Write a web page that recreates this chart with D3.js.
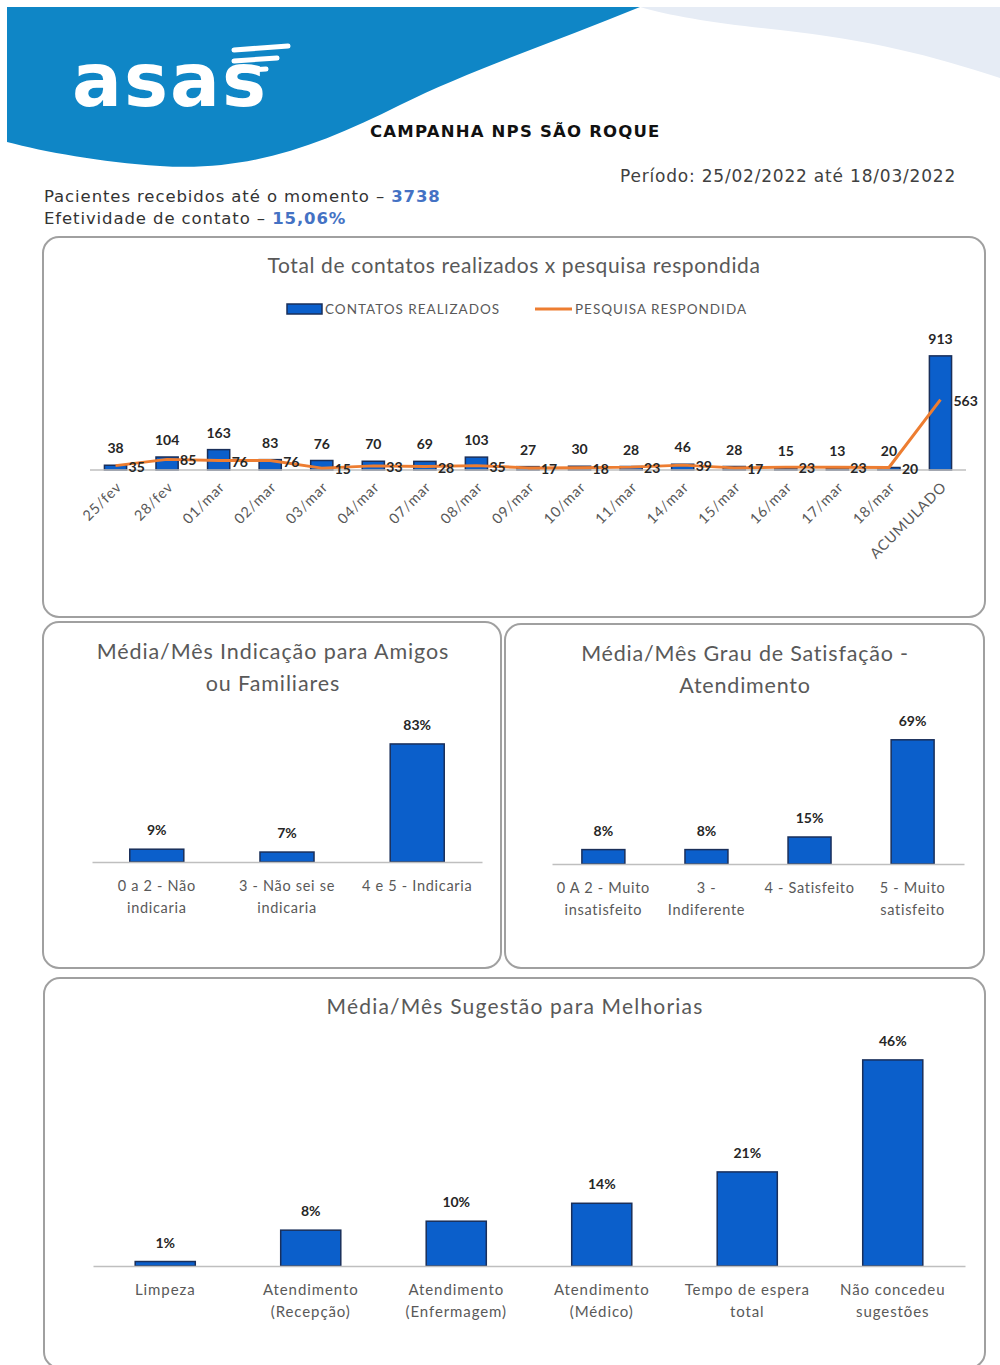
<!DOCTYPE html>
<html lang="pt-BR">
<head>
<meta charset="utf-8">
<script src="https://cdnjs.cloudflare.com/ajax/libs/d3/7.8.5/d3.min.js"></script>
<style>
  html, body { margin: 0; padding: 0; background: #fff; }
  svg { display: block; }
  .titulo { font-family: Lato, "Open Sans", sans-serif; fill: #595959; text-anchor: middle; }
  .valor { font-family: Lato, sans-serif; font-weight: bold; fill: #262626; font-size: 14px; }
  .cat { font-family: Lato, sans-serif; fill: #595959; }
  .cab { font-family: "DejaVu Sans", sans-serif; fill: #333; }
</style>
</head>
<body>
<script>

// ---- dados
var dias = ["25/fev","28/fev","01/mar","02/mar","03/mar","04/mar","07/mar","08/mar","09/mar",
            "10/mar","11/mar","14/mar","15/mar","16/mar","17/mar","18/mar","ACUMULADO"];
var contatos = [38,104,163,83,76,70,69,103,27,30,28,46,28,15,13,20,913];
var respondidas = [35,85,76,76,15,33,28,35,17,18,23,39,17,23,23,20,563];

var indicacaoCats = ["0 a 2 - Não\nindicaria","3 - Não sei se\nindicaria","4 e 5 - Indicaria"];
var indicacaoVals = [9,7,83];

var satisfacaoCats = ["0 A 2 - Muito\ninsatisfeito","3 -\nIndiferente","4 - Satisfeito","5 - Muito\nsatisfeito"];
var satisfacaoVals = [8,8,15,69];

var melhoriasCats = ["Limpeza","Atendimento\n(Recepção)","Atendimento\n(Enfermagem)","Atendimento\n(Médico)","Tempo de espera\ntotal","Não concedeu\nsugestões"];
var melhoriasVals = [1,8,10,14,21,46];

var pacientes = "3738";
var efetividade = "15,06%";

// ---- svg
var W = 1000, H = 1365;
var svg = d3.select("body").append("svg").attr("width", W).attr("height", H);

var AZUL = "#0b5fcb", CONTORNO = "#1a2f5a", LARANJA = "#ed7d31";

// ---- cabeçalho
svg.append("path")
  .attr("d", "M640,7 L1000,7 L1000,78 C930,55 870,40 780,30 C720,24 670,16 640,7 Z")
  .attr("fill", "#e6ecf5");
svg.append("path")
  .attr("d", "M7,7 L640,7 C560,40 470,70 400,105 C320,145 250,172 160,166 C100,162 45,152 7,142 Z")
  .attr("fill", "#0f86c6");

var logo = svg.append("g");
logo.append("text")
  .attr("x", 72).attr("y", 106)
  .style("font-family", "DejaVu Sans, sans-serif")
  .style("font-size", "74px")
  .style("font-weight", "bold")
  .style("letter-spacing", "2px")
  .attr("fill", "#fff")
  .text("asas");
[[234, 50, 288, 46], [234, 61, 277, 58], [234, 71, 266, 69]].forEach(function(l) {
  logo.append("line")
    .attr("x1", l[0]).attr("y1", l[1]).attr("x2", l[2]).attr("y2", l[3])
    .attr("stroke", "#fff").attr("stroke-width", 5).attr("stroke-linecap", "round");
});

svg.append("text").attr("class", "cab")
  .attr("x", 370).attr("y", 137)
  .style("font-size", "16.5px").style("font-weight", "bold").style("fill", "#111")
  .style("letter-spacing", "1.2px")
  .text("CAMPANHA NPS SÃO ROQUE");

svg.append("text").attr("class", "cab")
  .attr("x", 956).attr("y", 182).attr("text-anchor", "end")
  .style("font-size", "17px").style("fill", "#404040").style("letter-spacing", "0.8px")
  .text("Período: 25/02/2022 até 18/03/2022");

var l1 = svg.append("text").attr("class", "cab").attr("x", 44).attr("y", 202)
  .style("font-size", "16.5px").style("letter-spacing", "0.9px");
l1.append("tspan").text("Pacientes recebidos até o momento – ");
l1.append("tspan").style("fill", "#4472c4").style("font-weight", "bold").text(pacientes);
var l2 = svg.append("text").attr("class", "cab").attr("x", 44).attr("y", 224)
  .style("font-size", "16.5px").style("letter-spacing", "0.9px");
l2.append("tspan").text("Efetividade de contato – ");
l2.append("tspan").style("fill", "#4472c4").style("font-weight", "bold").text(efetividade);

// ---- painéis
function painel(x, y, w, h) {
  svg.append("rect")
    .attr("x", x).attr("y", y).attr("width", w).attr("height", h)
    .attr("rx", 16).attr("ry", 16)
    .attr("fill", "#fff").attr("stroke", "#a0a0a0").attr("stroke-width", 2);
}
painel(43, 237, 942, 380);
painel(43, 622, 458, 346);
painel(505, 624, 479, 344);
painel(44, 978, 941, 390);

// ---- gráfico 1: contatos x pesquisa
var base1 = 470;
var x1 = d3.scaleBand().domain(dias).range([90, 966]).paddingInner(0.57).paddingOuter(0.28);
var y1 = d3.scaleLinear().domain([0, 1000]).range([base1, 345]);

svg.append("text").attr("class", "titulo")
  .attr("x", 514).attr("y", 273).style("font-size", "21px").style("letter-spacing", "0.6px")
  .text("Total de contatos realizados x pesquisa respondida");

// legenda
svg.append("rect").attr("x", 287).attr("y", 304).attr("width", 35).attr("height", 10)
  .attr("fill", AZUL).attr("stroke", CONTORNO).attr("stroke-width", 1.5);
svg.append("text").attr("class", "cat").attr("x", 325).attr("y", 314)
  .style("font-size", "13.5px").style("letter-spacing", "1px").text("CONTATOS REALIZADOS");
svg.append("line").attr("x1", 535).attr("x2", 572).attr("y1", 309).attr("y2", 309)
  .attr("stroke", LARANJA).attr("stroke-width", 3);
svg.append("text").attr("class", "cat").attr("x", 575).attr("y", 314)
  .style("font-size", "13.5px").style("letter-spacing", "1px").text("PESQUISA RESPONDIDA");

var g1 = svg.append("g");
g1.selectAll("rect.bar").data(contatos).enter().append("rect")
  .attr("class", "bar")
  .attr("x", function(d, i) { return x1(dias[i]); })
  .attr("y", function(d) { return y1(d); })
  .attr("width", x1.bandwidth())
  .attr("height", function(d) { return base1 - y1(d); })
  .attr("fill", AZUL).attr("stroke", CONTORNO).attr("stroke-width", 1.5);

var eixo1 = g1.append("g").attr("transform", "translate(0," + base1 + ")")
  .call(d3.axisBottom(x1).tickSize(0).tickSizeOuter(0));
eixo1.select(".domain").attr("stroke", "#bfbfbf").attr("stroke-width", 1.5)
  .attr("d", "M90,0H966");
eixo1.selectAll("text")
  .attr("class", "cat")
  .style("font-size", "14.5px")
  .style("letter-spacing", "0.8px")
  .attr("text-anchor", "end")
  .attr("dy", null).attr("y", 0)
  .attr("transform", "translate(7,18) rotate(-45)");

var linha = d3.line()
  .x(function(d, i) { return x1(dias[i]) + x1.bandwidth() / 2; })
  .y(function(d) { return y1(d); });
g1.append("path").datum(respondidas)
  .attr("d", linha).attr("fill", "none")
  .attr("stroke", LARANJA).attr("stroke-width", 3).attr("stroke-linejoin", "round");

g1.selectAll("text.vbar").data(contatos).enter().append("text")
  .attr("class", "valor vbar")
  .attr("text-anchor", "middle")
  .attr("x", function(d, i) { return x1(dias[i]) + x1.bandwidth() / 2; })
  .attr("y", function(d) { return y1(d) - 12; })
  .text(function(d) { return d; });

g1.selectAll("text.vlin").data(respondidas).enter().append("text")
  .attr("class", "valor vlin")
  .attr("x", function(d, i) { return x1(dias[i]) + x1.bandwidth() / 2 + 13; })
  .attr("y", function(d) { return y1(d) + 6; })
  .text(function(d) { return d; });

// ---- gráficos de barras simples
function barras(cfg) {
  var x = d3.scaleBand().domain(cfg.cats).range([cfg.x0, cfg.x1])
    .paddingInner(cfg.pi).paddingOuter(cfg.po);
  var y = d3.scaleLinear().domain([0, cfg.max]).range([cfg.base, cfg.top]);
  var g = svg.append("g");

  cfg.titulo.forEach(function(t, i) {
    g.append("text").attr("class", "titulo")
      .attr("x", cfg.tx).attr("y", cfg.ty + i * 32)
      .style("font-size", cfg.tsize + "px").style("letter-spacing", cfg.tls + "px").text(t);
  });

  g.selectAll("rect").data(cfg.vals).enter().append("rect")
    .attr("x", function(d, i) { return x(cfg.cats[i]); })
    .attr("y", function(d) { return y(d); })
    .attr("width", x.bandwidth())
    .attr("height", function(d) { return cfg.base - y(d); })
    .attr("fill", AZUL).attr("stroke", CONTORNO).attr("stroke-width", 1.5);

  var ax = g.append("g").attr("transform", "translate(0," + cfg.base + ")")
    .call(d3.axisBottom(x).tickSize(0).tickSizeOuter(0));
  ax.select(".domain").attr("stroke", "#bfbfbf").attr("stroke-width", 1.5);
  ax.selectAll(".tick text").each(function(d) {
    var t = d3.select(this).attr("class", "cat").attr("y", 0).attr("dy", null)
      .style("font-size", cfg.csize + "px").style("letter-spacing", cfg.cls + "px").text(null);
    d.split("\n").forEach(function(p, k) {
      t.append("tspan").attr("x", 0).attr("y", 29 + k * 22).text(p);
    });
  });

  g.selectAll("text.v").data(cfg.vals).enter().append("text")
    .attr("class", "valor v").attr("text-anchor", "middle")
    .attr("x", function(d, i) { return x(cfg.cats[i]) + x.bandwidth() / 2; })
    .attr("y", function(d) { return y(d) - 14; })
    .text(function(d) { return d + "%"; });
}

barras({
  cats: indicacaoCats, vals: indicacaoVals,
  x0: 92, x1: 482, pi: 0.585, po: 0.29, base: 862, top: 734, max: 90,
  titulo: ["Média/Mês Indicação para Amigos", "ou Familiares"],
  tx: 273, ty: 659, tsize: 21.5, tls: 0.9, csize: 14.5, cls: 0.7
});

barras({
  cats: satisfacaoCats, vals: satisfacaoVals,
  x0: 552, x1: 964, pi: 0.583, po: 0.29, base: 864, top: 720, max: 80,
  titulo: ["Média/Mês Grau de Satisfação -", "Atendimento"],
  tx: 745, ty: 661, tsize: 21.5, tls: 0.8, csize: 14.5, cls: 0.7
});

barras({
  cats: melhoriasCats, vals: melhoriasVals,
  x0: 93, x1: 965, pi: 0.587, po: 0.29, base: 1266, top: 1042, max: 50,
  titulo: ["Média/Mês Sugestão para Melhorias"],
  tx: 515, ty: 1014, tsize: 21, tls: 1.2, csize: 15, cls: 0.9
});

</script>
</body>
</html>
